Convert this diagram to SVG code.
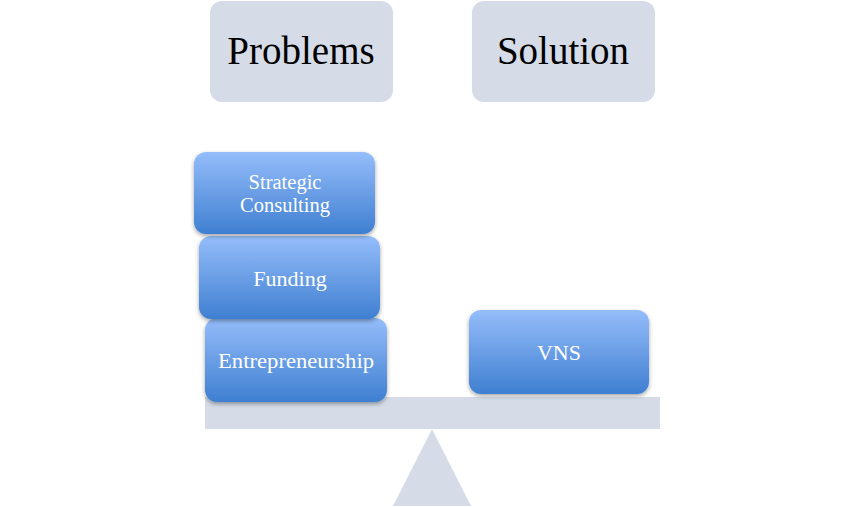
<svg xmlns="http://www.w3.org/2000/svg" width="865" height="507" viewBox="0 0 865 507">
<defs>
<linearGradient id="blue" x1="0" y1="0" x2="0" y2="1">
<stop offset="0" stop-color="#95BDFA"/>
<stop offset="1" stop-color="#3F7FD1"/>
</linearGradient>
<filter id="sh" x="-10%" y="-10%" width="125%" height="130%">
<feDropShadow dx="0" dy="2" stdDeviation="2" flood-color="#000" flood-opacity="0.35"/>
</filter>
</defs>
<style>
.hdr{fill:#D5DCE8}
.hdrt{font-family:"Liberation Serif",serif;font-size:39px;fill:#000;text-anchor:middle}
.blk{fill:url(#blue);filter:url(#sh)}
.blkt{font-family:"Liberation Serif",serif;font-size:22px;fill:#fff;text-anchor:middle}
.sm{font-size:20.5px}
.scale{fill:#D5DCE8}
</style>
<rect width="865" height="507" fill="#fff"/>
<g id="connectors"></g>
<g id="scale">
<rect class="scale" x="205" y="397" width="455" height="32"/>
<polygon class="scale" points="432,429 471,506 393,506"/>
</g>
<g id="problems">
<rect class="hdr" x="210" y="1" width="183" height="101" rx="12"/>
<text class="hdrt" x="301" y="64">Problems</text>
</g>
<g id="solution">
<rect class="hdr" x="472" y="1" width="183" height="101" rx="12"/>
<text class="hdrt" x="563" y="64">Solution</text>
</g>
<g id="entrepreneurship">
<rect class="blk" x="205" y="318" width="182" height="84" rx="12"/>
<text class="blkt" x="296" y="368" textLength="156" lengthAdjust="spacingAndGlyphs">Entrepreneurship</text>
</g>
<g id="funding">
<rect class="blk" x="199" y="236" width="181" height="83" rx="12"/>
<text class="blkt" x="290" y="286">Funding</text>
</g>
<g id="strategic">
<rect class="blk" x="194" y="152" width="181" height="82" rx="12"/>
<text class="blkt sm" x="285" y="189">Strategic</text>
<text class="blkt sm" x="285" y="212">Consulting</text>
</g>
<g id="vns">
<rect class="blk" x="469" y="310" width="180" height="84" rx="12"/>
<text class="blkt" x="559" y="360">VNS</text>
</g>
</svg>
